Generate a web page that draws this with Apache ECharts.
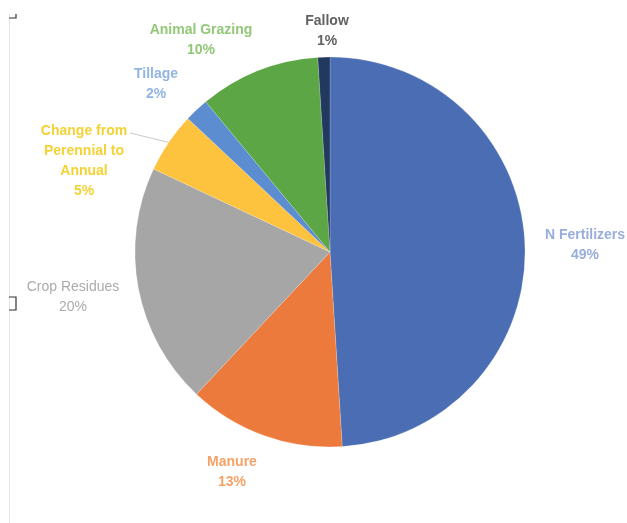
<!DOCTYPE html>
<html>
<head>
<meta charset="utf-8">
<script src="https://cdn.jsdelivr.net/npm/echarts@6/dist/echarts.min.js"></script>
<style>
  html, body { margin: 0; padding: 0; background: #fff; }
  #chart { width: 627px; height: 523px; }
</style>
</head>
<body>
<div id="chart"></div>
<script>
// Sources of N2O emissions, clockwise from 12 o'clock
const categories = ['N Fertilizers', 'Manure', 'Crop Residues', 'Change from Perennial to Annual', 'Tillage', 'Animal Grazing', 'Fallow'];
const shares = [49, 13, 20, 5, 2, 10, 1];
const labelNames = ['N Fertilizers', 'Manure', 'Crop Residues', 'Change from\nPerennial to\nAnnual', 'Tillage', 'Animal Grazing', 'Fallow'];

const sliceColors = ['#4a6db3', '#ec7a3c', '#a6a6a6', '#fdc23e', '#5b8dd0', '#5ca646', '#22395f'];
const labelColors = ['#98addb', '#f5a268', '#ababab', '#f3d235', '#93b5e2', '#92c878', '#626262'];
const labelWeights = ['bold', 'bold', 'normal', 'bold', 'bold', 'bold', 'bold'];
// label anchor points (center of text block)
const labelSpots = [[585, 245], [232, 472], [73, 297], [84, 161], [156, 84], [201, 40], [327, 31]];

const chart = echarts.init(document.getElementById('chart'));

chart.setOption({
  animation: false,
  backgroundColor: '#ffffff',
  graphic: [
    { type: 'line', shape: { x1: 9.5, y1: 14, x2: 9.5, y2: 523 }, style: { stroke: '#e6e6e6', lineWidth: 1 } },
    { type: 'polyline', shape: { points: [[9, 18], [16, 18], [16, 14]] }, style: { stroke: '#333', lineWidth: 1.2, fill: null } },
    { type: 'polyline', shape: { points: [[9, 297], [16, 297], [16, 310], [9, 310]] }, style: { stroke: '#333', lineWidth: 1.2, fill: null } }
  ],
  series: [{
    type: 'pie',
    center: [330, 252],
    radius: 195,
    startAngle: 90,
    clockwise: true,
    avoidLabelOverlap: false,
    itemStyle: { borderColor: 'rgba(255,255,255,0.35)', borderWidth: 0.5 },
    label: {
      show: true,
      position: 'outside',
      fontFamily: 'Liberation Sans, Arial, sans-serif',
      fontSize: 14,
      lineHeight: 20,
      align: 'center',
      formatter: (p) => labelNames[p.dataIndex] + '\n' + p.value + '%'
    },
    labelLine: { show: false },
    labelLayout: (params) => {
      const spot = labelSpots[params.dataIndex];
      const layout = { x: spot[0], y: spot[1], align: 'center', verticalAlign: 'middle' };
      const pts = params.labelLinePoints;
      if (params.dataIndex === 3 && pts) {
        // leader runs from the slice edge to the end of the first text line
        const end = [130, 133];
        const start = pts[0];
        layout.labelLinePoints = [start, [(start[0] + end[0]) / 2, (start[1] + end[1]) / 2], end];
      }
      return layout;
    },
    data: categories.map((name, i) => ({
      name: name,
      value: shares[i],
      itemStyle: { color: sliceColors[i] },
      label: { color: labelColors[i], fontWeight: labelWeights[i] },
      labelLine: i === 3
        ? { show: true, length: 8, length2: 10, lineStyle: { color: '#bbbbbb', width: 0.8 } }
        : { show: false }
    }))
  }]
});
</script>
</body>
</html>
